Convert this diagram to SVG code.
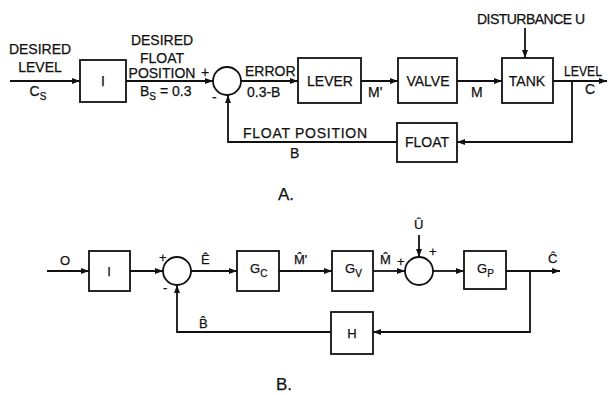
<svg xmlns="http://www.w3.org/2000/svg" width="608" height="395" viewBox="0 0 608 395">
<defs>
<marker id="ah" markerUnits="userSpaceOnUse" markerWidth="9" markerHeight="7" refX="8" refY="3.5" orient="auto">
<path d="M0,0.5 L8,3.5 L0,6.5 Z" fill="#111"/>
</marker>
<style>
.bx{fill:none;stroke:#111;stroke-width:1.8}
.ln{fill:none;stroke:#111;stroke-width:1.8}
.ar{marker-end:url(#ah)}
text{font-family:"Liberation Sans","DejaVu Sans",sans-serif;fill:#111;font-size:14px;stroke:#111;stroke-width:0.25}
.c{text-anchor:middle}
.s{font-size:13px}
.sub{font-size:10px}
</style>
</defs>
<rect width="608" height="395" fill="#fff"/>

<!-- Diagram A -->
<g id="a-input-label">
<text class="c" x="40" y="54">DESIRED</text>
<text class="c" x="40" y="72">LEVEL</text>
<text class="c" x="38" y="96">C<tspan class="sub" dy="4">S</tspan></text>
</g>
<g id="a-I">
<rect class="bx" x="80" y="60" width="46" height="42"/>
<text class="c" x="103" y="86">I</text>
</g>
<g id="a-desired-float">
<text class="c" x="162" y="45">DESIRED</text>
<text class="c" x="162" y="63">FLOAT</text>
<text class="c" x="162" y="78">POSITION</text>
<text x="140" y="96">B<tspan class="sub" dy="4">S</tspan><tspan dy="-4"> = 0.3</tspan></text>
</g>
<g id="a-sum">
<circle class="bx" cx="227" cy="81" r="14"/>
<text x="201" y="77">+</text>
<text x="212" y="102">-</text>
</g>
<g id="a-error">
<text x="245" y="76">ERROR</text>
<text x="247" y="97">0.3-B</text>
</g>
<g id="a-lever">
<rect class="bx" x="298" y="58" width="63" height="45"/>
<text class="c" x="330" y="86">LEVER</text>
</g>
<text x="368" y="97">M'</text>
<g id="a-valve">
<rect class="bx" x="398" y="58" width="59" height="45"/>
<text class="c" x="428" y="86">VALVE</text>
</g>
<text x="471" y="97">M</text>
<g id="a-tank">
<rect class="bx" x="502" y="58" width="51" height="45"/>
<text class="c" x="527" y="86">TANK</text>
</g>
<text x="477" y="24" textLength="108">DISTURBANCE U</text>
<text x="564" y="76" textLength="38" lengthAdjust="spacingAndGlyphs">LEVEL</text>
<text x="585" y="94">C</text>
<g id="a-float">
<rect class="bx" x="397" y="123" width="60" height="39"/>
<text class="c" x="427" y="147">FLOAT</text>
</g>
<text x="243" y="138" textLength="124">FLOAT POSITION</text>
<text x="290" y="158">B</text>
<text x="278" y="200" style="font-size:17px">A.</text>

<!-- Diagram B -->
<text x="60" y="265" class="s">O</text>
<g id="b-I">
<rect class="bx" x="89" y="251" width="41" height="40"/>
<text class="c s" x="109" y="276">I</text>
</g>
<g id="b-sum1">
<circle class="bx" cx="177" cy="271" r="14"/>
<text x="159" y="262" class="s">+</text>
<text x="163" y="292" class="s">-</text>
</g>
<text x="201" y="264" class="s">E&#770;</text>
<g id="b-Gc">
<rect class="bx" x="237" y="251" width="42" height="40"/>
<text x="250" y="273" class="s">G<tspan class="sub" dy="4">C</tspan></text>
</g>
<text x="294" y="264" class="s">M&#770;'</text>
<g id="b-Gv">
<rect class="bx" x="332" y="251" width="41" height="40"/>
<text x="345" y="273" class="s">G<tspan class="sub" dy="4">V</tspan></text>
</g>
<text x="380" y="264" class="s">M&#770;</text>
<text x="397" y="266" class="s">+</text>
<g id="b-sum2">
<circle class="bx" cx="419" cy="271" r="14"/>
<text x="429" y="256" class="s">+</text>
</g>
<text x="414" y="229" class="s">U&#770;</text>
<g id="b-Gp">
<rect class="bx" x="464" y="251" width="42" height="38"/>
<text x="477" y="273" class="s">G<tspan class="sub" dy="4">P</tspan></text>
</g>
<text x="548" y="263" class="s">C&#770;</text>
<g id="b-H">
<rect class="bx" x="331" y="312" width="42" height="42"/>
<text class="c s" x="352" y="338">H</text>
</g>
<text x="199" y="328" class="s">B&#770;</text>
<text x="276" y="390" style="font-size:17px">B.</text>

<g id="connectors">
<path class="ln ar" d="M10 81 H80"/>
<path class="ln ar" d="M126 81 H213"/>
<path class="ln ar" d="M241 81 H298"/>
<path class="ln ar" d="M361 81 H398"/>
<path class="ln ar" d="M457 81 H502"/>
<path class="ln ar" d="M553 81 H607"/>
<path class="ln ar" d="M525 28 V58"/>
<path class="ln ar" d="M572 81 V142 H457"/>
<path class="ln ar" d="M397 142 H228 V95"/>

<path class="ln ar" d="M47 271 H89"/>
<path class="ln ar" d="M130 271 H163"/>
<path class="ln ar" d="M191 271 H237"/>
<path class="ln ar" d="M279 271 H332"/>
<path class="ln ar" d="M373 271 H405"/>
<path class="ln ar" d="M433 271 H464"/>
<path class="ln ar" d="M506 271 H560"/>
<path class="ln ar" d="M419 235 V257"/>
<path class="ln ar" d="M530 271 V332 H373"/>
<path class="ln ar" d="M331 332 H177 V285"/>
</g>
</svg>
